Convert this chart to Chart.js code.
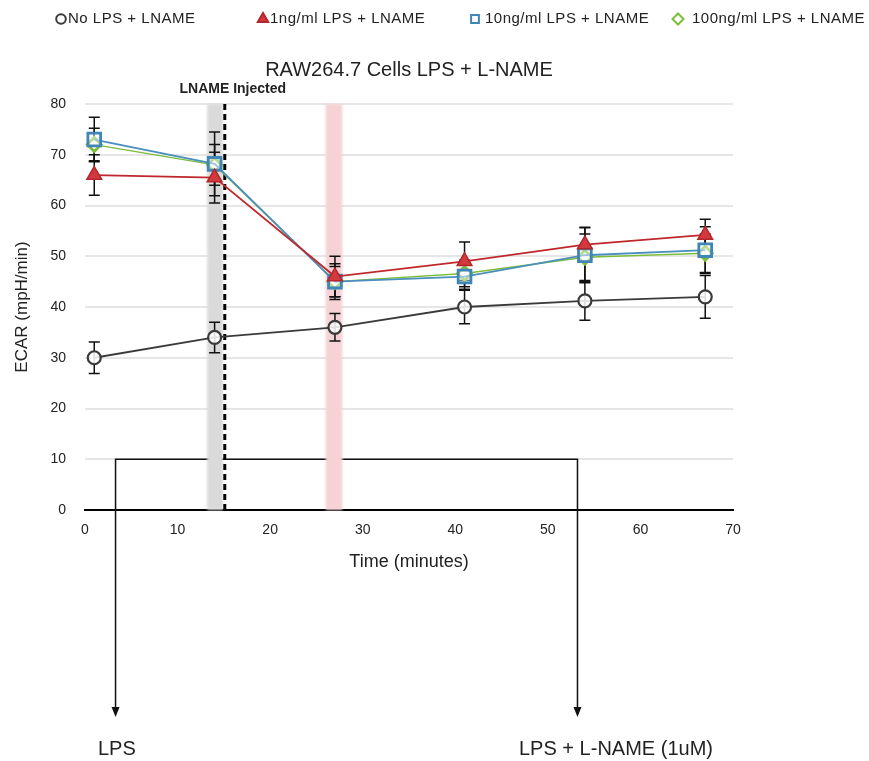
<!DOCTYPE html>
<html>
<head>
<meta charset="utf-8">
<script src="https://cdn.jsdelivr.net/npm/chart.js@4/dist/chart.umd.min.js"></script>
<style>
  html, body { margin: 0; padding: 0; background: #fff; }
  canvas { display: block; }
</style>
</head>
<body>
<canvas id="ecar" width="869" height="761"></canvas>
<script>
// Measurement times (minutes)
const times = [1, 14, 27, 41, 54, 67];

const seriesLabels = ['No LPS + LNAME', '1ng/ml LPS + LNAME', '10ng/ml LPS + LNAME', '100ng/ml LPS + LNAME'];

// ECAR means (mpH/min) and error half-widths
const noLps = [30, 34, 36, 40, 41.2, 42];
const noLpsErr = [3.1, 3.0, 2.7, 3.3, 3.8, 4.2];
const lps1 = [66, 65.5, 46, 49, 52.3, 54.2];
const lps1Err = [4, 5, 4, 3.8, 3.4, 3.1];
const lps10 = [73, 68.2, 45, 46, 50.2, 51.2];
const lps10Err = [4.4, 6.3, 3.5, 2.5, 5.4, 4.6];
const lps100 = [72, 68, 45, 46.6, 49.8, 50.6];
const lps100Err = [3.2, 4, 3, 2.6, 4.6, 3.8];

const chartTitle = 'RAW264.7 Cells LPS + L-NAME';
const injectLabel = 'LNAME Injected';
const treatmentLabels = ['LPS', 'LPS + L-NAME (1uM)'];

// Event markers, in minutes / ECAR units
const lpsAt = 3.3;
const lnameAt = 53.2;
const bracketLevel = 10;
const injectBand = [13.2, 14.9];
const injectLineAt = 15.1;
const measureBand = [26, 27.8];

const FONT = '"Liberation Sans", Arial, Helvetica, sans-serif';
Chart.defaults.font.family = FONT;
Chart.defaults.color = '#222';

const styles = [
  { line: '#3a3a3a', border: '#3a3a3a', fill: 'rgba(255,255,255,0.85)', shape: 'circle', r: 6.5, bw: 2.2, lw: 1.8 },
  { line: '#c0272d', border: '#b3262b', fill: '#d2393e', shape: 'triangle', r: 8.5, bw: 1.5, lw: 1.8 },
  { line: '#4a8fbd', border: '#3f86b6', fill: 'rgba(255,255,255,0.45)', shape: 'rect', r: 9, bw: 2.8, lw: 1.8 },
  { line: '#7cbd3a', border: '#7cbd3a', fill: '#ffffff', shape: 'rectRot', r: 7, bw: 2.8, lw: 1.4 }
];
const values = [noLps, lps1, lps10, lps100];
const errors = [noLpsErr, lps1Err, lps10Err, lps100Err];

const datasets = values.map((vals, i) => ({
  label: seriesLabels[i],
  data: times.map((t, j) => ({ x: t, y: vals[j] })),
  borderColor: styles[i].line,
  borderWidth: styles[i].lw,
  pointStyle: styles[i].shape,
  pointRadius: styles[i].r,
  pointBorderWidth: styles[i].bw,
  pointBorderColor: styles[i].border,
  pointBackgroundColor: styles[i].fill,
  tension: 0,
  fill: false
}));

function drawMarker(ctx, shape, x, y, r) {
  ctx.beginPath();
  if (shape === 'circle') {
    ctx.arc(x, y, r, 0, Math.PI * 2);
  } else if (shape === 'triangle') {
    ctx.moveTo(x, y - r);
    ctx.lineTo(x + r * 0.866, y + r * 0.5);
    ctx.lineTo(x - r * 0.866, y + r * 0.5);
    ctx.closePath();
  } else if (shape === 'rect') {
    const s = r * Math.SQRT1_2;
    ctx.rect(x - s, y - s, 2 * s, 2 * s);
  } else {
    ctx.moveTo(x, y - r); ctx.lineTo(x + r, y); ctx.lineTo(x, y + r); ctx.lineTo(x - r, y);
    ctx.closePath();
  }
  ctx.fill();
  ctx.stroke();
}

const overlay = {
  id: 'overlay',
  beforeDatasetsDraw(chart) {
    const { ctx, chartArea: a, scales: { x, y } } = chart;
    ctx.save();

    // Treatment bracket with arrows down to the labels
    const yb = y.getPixelForValue(bracketLevel);
    const xl = x.getPixelForValue(lpsAt);
    const xr = x.getPixelForValue(lnameAt);
    const tipY = 717;
    ctx.strokeStyle = '#111';
    ctx.fillStyle = '#111';
    ctx.lineWidth = 1.5;
    ctx.beginPath();
    ctx.moveTo(xl, tipY - 8);
    ctx.lineTo(xl, yb);
    ctx.lineTo(xr, yb);
    ctx.lineTo(xr, tipY - 8);
    ctx.stroke();
    [xl, xr].forEach(px => {
      ctx.beginPath();
      ctx.moveTo(px - 4, tipY - 10);
      ctx.lineTo(px + 4, tipY - 10);
      ctx.lineTo(px, tipY);
      ctx.closePath();
      ctx.fill();
    });

    // Shaded injection / measurement windows
    ctx.filter = 'blur(1px)';
    ctx.fillStyle = '#dadada';
    const g0 = x.getPixelForValue(injectBand[0]), g1 = x.getPixelForValue(injectBand[1]);
    ctx.fillRect(g0, a.top, g1 - g0, a.bottom - a.top);
    ctx.fillStyle = '#f5d2d5';
    const p0 = x.getPixelForValue(measureBand[0]), p1 = x.getPixelForValue(measureBand[1]);
    ctx.fillRect(p0, a.top, p1 - p0, a.bottom - a.top);
    ctx.filter = 'none';

    // Injection time
    const xd = x.getPixelForValue(injectLineAt);
    ctx.strokeStyle = '#000';
    ctx.lineWidth = 3;
    ctx.setLineDash([6, 4]);
    ctx.beginPath();
    ctx.moveTo(xd, a.top);
    ctx.lineTo(xd, a.bottom + 2);
    ctx.stroke();
    ctx.setLineDash([]);

    // Error bars
    ctx.strokeStyle = '#111';
    ctx.lineWidth = 1.5;
    const cap = 5.5;
    values.forEach((vals, i) => {
      vals.forEach((v, j) => {
        const px = x.getPixelForValue(times[j]);
        const yt = y.getPixelForValue(v + errors[i][j]);
        const ybm = y.getPixelForValue(v - errors[i][j]);
        ctx.beginPath();
        ctx.moveTo(px, yt); ctx.lineTo(px, ybm);
        ctx.moveTo(px - cap, yt); ctx.lineTo(px + cap, yt);
        ctx.moveTo(px - cap, ybm); ctx.lineTo(px + cap, ybm);
        ctx.stroke();
      });
    });
    ctx.restore();
  },
  afterDraw(chart) {
    const { ctx, chartArea: a, scales: { x } } = chart;
    ctx.save();

    // Title
    ctx.fillStyle = '#222';
    ctx.textAlign = 'center';
    ctx.textBaseline = 'middle';
    ctx.font = '20px ' + FONT;
    ctx.fillText(chartTitle, (a.left + a.right) / 2, 70);

    // Injection label
    ctx.font = 'bold 14px ' + FONT;
    ctx.fillText(injectLabel, x.getPixelForValue(injectLineAt) + 8, 89);

    // Treatment labels under the arrows
    ctx.font = '20px ' + FONT;
    ctx.textAlign = 'left';
    ctx.textBaseline = 'alphabetic';
    ctx.fillText(treatmentLabels[0], 98, 755);
    ctx.fillText(treatmentLabels[1], 519, 755);

    // Legend
    const markerX = [61, 263, 475, 678];
    const textX = [68, 270, 485, 692];
    const legendR = [4.8, 6, 5.5, 5.5];
    ctx.font = '15px ' + FONT;
    ctx.textBaseline = 'middle';
    ctx.letterSpacing = '0.5px';
    seriesLabels.forEach((lab, i) => {
      ctx.strokeStyle = styles[i].border;
      ctx.fillStyle = styles[i].shape === 'triangle' ? styles[i].fill : '#fff';
      ctx.lineWidth = 2;
      drawMarker(ctx, styles[i].shape, markerX[i], 19, legendR[i]);
      ctx.fillStyle = '#222';
      ctx.fillText(lab, textX[i], 19);
    });
    ctx.letterSpacing = '0px';
    ctx.restore();
  }
};

new Chart(document.getElementById('ecar'), {
  type: 'line',
  data: { datasets },
  options: {
    responsive: false,
    animation: false,
    events: [],
    layout: { padding: { top: 104, right: 136, bottom: 186, left: 0 } },
    plugins: { legend: { display: false }, tooltip: { enabled: false } },
    scales: {
      x: {
        type: 'linear',
        min: 0, max: 70,
        afterFit: s => { s.height = 65; },
        ticks: { stepSize: 10, padding: 12, font: { size: 14 }, color: '#222' },
        grid: { display: false, drawTicks: false },
        border: { display: true, color: '#000', width: 2 },
        title: { display: true, text: 'Time (minutes)', font: { size: 18 }, color: '#222', padding: { top: 0, bottom: 2 } }
      },
      y: {
        min: 0, max: 80,
        afterFit: s => { s.width = 85; },
        ticks: { stepSize: 10, padding: 19, font: { size: 14 }, color: '#222' },
        grid: { color: '#e6e6e6', lineWidth: 2, drawTicks: false },
        border: { display: false },
        title: { display: true, text: 'ECAR (mpH/min)', font: { size: 17 }, color: '#222', padding: { top: 12, bottom: 0 } }
      }
    }
  },
  plugins: [overlay]
});
</script>
</body>
</html>
